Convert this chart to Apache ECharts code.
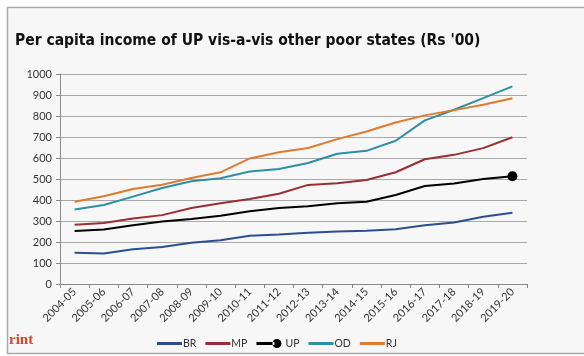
<!DOCTYPE html>
<html>
<head>
<meta charset="utf-8">
<script src="https://cdn.jsdelivr.net/npm/echarts@6/dist/echarts.min.js"></script>
<style>
html,body{margin:0;padding:0;background:#ffffff;}
#chart{width:584px;height:356px;}
</style>
</head>
<body>
<div id="chart"></div>
<script>
const categories = ['2004-05','2005-06','2006-07','2007-08','2008-09','2009-10','2010-11','2011-12','2012-13','2013-14','2014-15','2015-16','2016-17','2017-18','2018-19','2019-20'];
const BR = [149,145,165,176,196,208,230,236,244,250,253,261,280,293,320,339];
const MP = [282,290,312,328,362,385,405,430,472,480,495,532,594,615,647,699];
const UP = [252,260,280,298,309,325,346,362,370,385,392,424,467,479,500,513];
const OD = [355,376,416,457,489,504,536,548,576,620,634,682,779,830,885,941];
const RJ = [392,418,452,473,505,532,598,627,648,690,726,769,803,828,854,885];
const yTicks = [0,100,200,300,400,500,600,700,800,900,1000];

const chart = echarts.init(document.getElementById('chart'));
const lbl = {fontFamily:'Lato', color:'#333', fontSize:11};
const lineIcon = 'path://M0,3.5h25v3h-25z';
const dotIcon = 'path://M0,3.5h18v3h-18z M16,5a4.5,4.5 0 1,0 9,0a4.5,4.5 0 1,0 -9,0z';
function line(name, data, color, dot){
  const s = {
    name, type:'line', data,
    lineStyle:{color, width:2},
    itemStyle:{color},
    emphasis:{disabled:true},
    animation:false,
    z: dot ? 5 : 3
  };
  if (dot){
    s.symbol = 'circle';
    s.symbolSize = (v, p) => p.dataIndex === data.length - 1 ? 10 : 0.001;
  } else {
    s.symbol = 'none';
  }
  return s;
}
chart.setOption({
  backgroundColor:'#ffffff',
  animation:false,
  graphic:[
    {type:'rect', z:-10, silent:true, shape:{x:7.5,y:7.5,width:620,height:346}, style:{fill:'#f7f7f7', stroke:'#aaaaaa', lineWidth:1.5}},
    {type:'text', left:15, top:33, style:{text:"Per capita income of UP vis-a-vis other poor states (Rs '00)", font:'bold 15.5px "DejaVu Sans Condensed"', fill:'#111'}},
    {type:'text', left:9, top:333, style:{text:'rint', font:'bold 15px "Liberation Serif"', fill:'#cc4a2a'}}
  ],
  grid:{left:60, right:57, top:74, bottom:72},
  legend:{
    bottom:2, left:152,
    itemWidth:25, itemHeight:10, itemGap:9,
    textStyle:{fontFamily:'Lato', fontSize:10.5, color:'#333', padding:[0,0,0,-4]},
    data:[
      {name:'BR', icon:lineIcon},
      {name:'MP', icon:lineIcon},
      {name:'UP', icon:dotIcon, textStyle:{padding:[0,0,0,-1]}},
      {name:'OD', icon:lineIcon},
      {name:'RJ', icon:lineIcon}
    ]
  },
  xAxis:{
    type:'category', data:categories, boundaryGap:true,
    axisLine:{lineStyle:{color:'#888', width:1}},
    axisTick:{show:true, length:4, lineStyle:{color:'#888'}},
    axisLabel:Object.assign({rotate:45, interval:0, margin:6, fontSize:10.5}, lbl),
    splitLine:{show:false}
  },
  yAxis:{
    type:'value', min:0, max:1000, interval:100,
    axisLine:{show:true, lineStyle:{color:'#888'}},
    axisTick:{show:true, length:4, lineStyle:{color:'#888'}},
    axisLabel:Object.assign({margin:8, formatter:(v)=> yTicks.includes(v) ? String(v) : ''}, lbl),
    splitLine:{lineStyle:{color:'#a8a8a8', width:1}}
  },
  series:[
    line('BR', BR, '#2b4f8e'),
    line('MP', MP, '#9a2e32'),
    line('UP', UP, '#000000', true),
    line('OD', OD, '#2e8ea6'),
    line('RJ', RJ, '#e07a2c')
  ]
});
</script>
</body>
</html>
